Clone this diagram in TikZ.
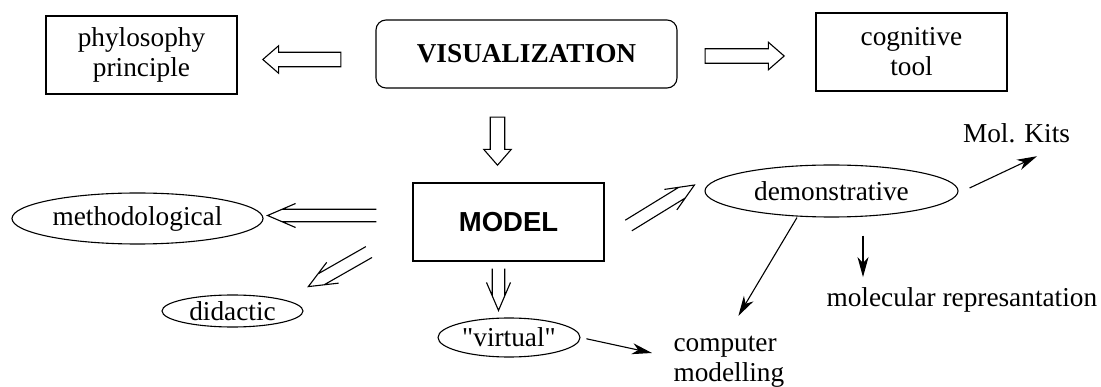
\documentclass[tikz,border=0pt]{standalone}
\usepackage{fontspec}
\setmainfont{Liberation Serif}
\setsansfont{Liberation Sans}
\usetikzlibrary{
    arrows.meta,
    calc,
    shapes.geometric,
    shapes.arrows
}

\begin{document}
\begin{tikzpicture}[x=1pt, y=-1pt, line width=1.1pt,
    font=\fontsize{27.3pt}{30pt}\selectfont,
    box/.style={draw, rectangle, inner sep=0pt, minimum width=191pt, minimum height=78pt, align=center},
    oval/.style={draw, ellipse, inner sep=0pt},
    hollow/.style={draw, single arrow, inner sep=4.6pt, shape border uses incircle,
        single arrow head extend=6.5pt, single arrow tip angle=82},
    solidarr/.style={-{Stealth[length=20pt, width=11pt, inset=6pt]}},
    dblarrow/.style={to path={
        let \p1=(\tikztostart), \p2=(\tikztotarget), \n1={atan2(\y1-\y2,\x1-\x2)} in
        ($(\p1)+(\n1+90:6.25pt)$) -- ($(\p2)+(\n1:14.6pt)+(\n1+90:6.25pt)$)
        ($(\p1)+(\n1-90:6.25pt)$) -- ($(\p2)+(\n1:14.6pt)+(\n1-90:6.25pt)$)
        ($(\p2)+(\n1:28pt)+(\n1+90:12pt)$) -- (\p2) -- ($(\p2)+(\n1:28pt)+(\n1-90:12pt)$)}}
]

\useasboundingbox (0,0) rectangle (1101,387);

% Top row
\node[box] (phil) at (141.5,55) {phylosophy\\principle};
\node[draw, rectangle, rounded corners=10pt, inner sep=0pt, minimum width=301pt, minimum height=68pt,
    font=\fontsize{27.3pt}{30pt}\selectfont\bfseries] (vis) at (526.5,54) {VISUALIZATION};
\node[box] (cog) at (911.5,52) {cognitive\\tool};

% Hollow arrows
\node[hollow, shape border rotate=180, minimum height=78pt] (toPhil) at (306,59.5) {};
\node[hollow, minimum height=79pt] (toCog) at (740.5,56) {};
\node[hollow, shape border rotate=270, minimum height=48pt] (toModel) at (497.5,137) {};

% Model and its kinds
\node[box, font=\sffamily\bfseries\fontsize{27.5pt}{30pt}\selectfont] (model) at (508.5,222) {MODEL};
\node[oval, minimum width=251pt, minimum height=51pt] (meth) at (137.5,218.5) {methodological};
\node[oval, minimum width=141pt, minimum height=32pt] (did) at (232.5,311) {didactic};
\node[oval, minimum width=142pt, minimum height=39pt] (virt) at (509,337.5) {\textquotedbl virtual\textquotedbl};
\node[oval, minimum width=253pt, minimum height=52pt] (demo) at (831.5,191) {demonstrative};

% Plain labels
\node[inner sep=0pt] (kits) at (1016.5,133) {Mol. Kits};
\node[inner sep=0pt, anchor=west] (molrep) at (826,300) {molecular represantation};
\node[inner sep=0pt, anchor=west, align=left] (comp) at (673,362) {computer\\modelling};

% Double arrows
\draw[dblarrow] ([xshift=-36pt, yshift=6.5pt]model.west) to ([xshift=4pt, yshift=3pt]meth.east);
\draw[dblarrow] ([xshift=-43.5pt, yshift=9.5pt]model.south west) to ([xshift=25.6pt, yshift=12.7pt]did.north east);
\draw[dblarrow] ([xshift=-10pt, yshift=-7pt]model.south) to ([xshift=-10.5pt, yshift=7pt]virt.north);
\draw[dblarrow] ([xshift=24pt, yshift=-3.5pt]model.east) to ([xshift=-10pt, yshift=6pt]demo.west);

% Solid arrows
\draw[solidarr] ([xshift=11pt, yshift=3pt]demo.east) -- ([xshift=20.5pt, yshift=-13pt]kits.south);
\draw[solidarr] ([xshift=-34.5pt]demo.south) -- ([xshift=9.5pt, yshift=20pt]comp.north);
\draw[solidarr, shorten <=18pt, shorten >=10pt] ([xshift=31.5pt]demo.south) -- ([xshift=31.5pt]demo.south |- molrep.north);
\draw[solidarr, shorten <=6pt] (virt.east) -- ([xshift=-21pt, yshift=9pt]comp.west);

\end{tikzpicture}
\end{document}
